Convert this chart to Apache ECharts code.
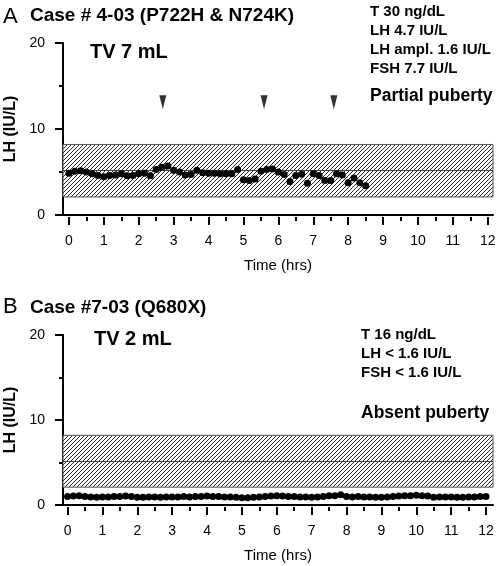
<!DOCTYPE html>
<html><head><meta charset="utf-8">
<script src="https://cdn.jsdelivr.net/npm/echarts@6/dist/echarts.min.js"></script>
<style>html,body{margin:0;padding:0;background:#fff}#c{width:498px;height:566px}</style>
</head><body><div id="c"></div>
<script>
// Panel A: sampling times (minutes) and LH values (IU/L)
const minutesA = [0,10,20,30,40,50,60,70,80,90,100,110,120,130,140,150,160,170,180,190,200,210,220,230,240,250,260,270,280,290,300,310,320,330,340,350,360,370,380,390,400,410,420,430,440,450,460,470,480,490,500,510];
const lhA = [4.85,5.1,5.15,5.0,4.8,4.6,4.45,4.6,4.65,4.8,4.55,4.6,4.8,4.85,4.55,5.3,5.55,5.7,5.2,5.0,4.65,4.7,5.2,4.9,4.85,4.85,4.8,4.8,4.8,5.3,4.1,4.0,4.2,5.1,5.3,5.35,5.0,4.7,3.9,4.6,4.75,3.7,4.8,4.6,4.0,4.0,4.8,4.65,3.75,4.3,3.75,3.4];
// Panel B
const minutesB = [0,10,20,30,40,50,60,70,80,90,100,110,120,130,140,150,160,170,180,190,200,210,220,230,240,250,260,270,280,290,300,310,320,330,340,350,360,370,380,390,400,410,420,430,440,450,460,470,480,490,500,510,520,530,540,550,560,570,580,590,600,610,620,630,640,650,660,670,680,690,700,710,720];
const lhB = [1.0,1.05,1.1,1.0,0.95,0.9,0.95,0.95,1.0,1.0,1.05,1.0,0.9,0.9,0.95,0.95,0.9,0.95,0.95,0.95,1.0,0.95,1.0,1.0,1.05,1.0,1.0,0.95,0.95,0.9,0.85,0.85,0.9,0.95,1.0,1.05,1.1,1.05,1.0,1.0,0.95,0.95,0.9,0.95,1.0,1.1,1.1,1.2,1.0,0.95,1.0,0.95,0.95,0.9,0.9,0.95,1.0,1.05,1.1,1.1,1.15,1.1,1.05,0.9,0.95,0.95,0.95,0.9,0.9,0.95,0.95,1.0,1.0];
// Pulse arrows (hours) and their plotted level
const arrowHoursA = [2.69, 5.59, 7.59];
const arrowLevelA = 13.1;
// Normal range band
const bandLow = 2.1, bandMid = 5.2, bandHigh = 8.2;
// Ticks
const xTickHours = [0,1,2,3,4,5,6,7,8,9,10,11,12];
const xMinorHours = [0.5,1.5,2.5,3.5,4.5,5.5,6.5,7.5,8.5,9.5,10.5,11.5];
const yMin = 0, yMax = 20, yInterval = 10;

const FONT = '"Liberation Sans", Arial, Helvetica, sans-serif';

// hatch pattern
const pc = document.createElement('canvas');
pc.width = 4; pc.height = 4;
const g = pc.getContext('2d');
g.fillStyle = '#fff'; g.fillRect(0,0,4,4);
g.strokeStyle = '#2a2a2a'; g.lineWidth = 1;
g.beginPath();
g.moveTo(0,4); g.lineTo(4,0);
g.moveTo(-1,1); g.lineTo(1,-1);
g.moveTo(3,5); g.lineTo(5,3);
g.stroke();
const hatch = {image: pc, repeat: 'repeat'};

const xRanges = [[-0.17, 12.15], [-0.13, 12.2]];

function xAxesFor(gi) {
  const [mn, mx] = xRanges[gi];
  return [
    {gridIndex: gi, type: 'value', min: mn, max: mx, position: 'bottom', offset: 0,
     axisLine: {show: true, onZero: false, lineStyle: {color: '#000', width: 2}},
     axisTick: {show: false}, axisLabel: {show: false}, splitLine: {show: false},
     name: 'Time (hrs)', nameLocation: 'middle', nameGap: 43,
     nameTextStyle: {fontFamily: FONT, fontSize: 15, color: '#000'}},
    {gridIndex: gi, type: 'value', min: mn, max: mx, position: 'bottom', offset: 2,
     axisLine: {show: false, onZero: false},
     axisTick: {show: true, length: 8, customValues: xTickHours, lineStyle: {color: '#000', width: 2}},
     axisLabel: {show: true, customValues: xTickHours, margin: 17, fontFamily: FONT, fontSize: 14, color: '#000'},
     splitLine: {show: false}},
    {gridIndex: gi, type: 'value', min: mn, max: mx, position: 'bottom', offset: 2,
     axisLine: {show: false, onZero: false},
     axisTick: {show: true, length: 4, customValues: xMinorHours, lineStyle: {color: '#000', width: 2}},
     axisLabel: {show: false}, splitLine: {show: false}}
  ];
}
function yAxisFor(gi) {
  return {gridIndex: gi, type: 'value', min: yMin, max: yMax, interval: yInterval, position: 'left',
    axisLine: {show: true, onZero: false, lineStyle: {color: '#000', width: 2}},
    axisTick: {show: true, length: 8, lineStyle: {color: '#000', width: 2}},
    minorTick: {show: true, splitNumber: 2, length: 4, lineStyle: {color: '#000', width: 2}},
    axisLabel: {margin: 18, fontFamily: FONT, fontSize: 14, color: '#000'},
    splitLine: {show: false}, minorSplitLine: {show: false},
    name: 'LH (IU/L)', nameLocation: 'middle', nameGap: 28,
    nameTextStyle: {fontFamily: FONT, fontSize: 16, fontWeight: 'bold', color: '#000'}};
}
function bandMarks(gi) {
  const [mn, mx] = xRanges[gi];
  return {
    markArea: {silent: true, itemStyle: {color: hatch, borderColor: '#555', borderWidth: 1},
      data: [[{xAxis: mn, yAxis: bandLow}, {xAxis: mx, yAxis: bandHigh}]]},
    markLine: {silent: true, symbol: 'none', label: {show: false},
      lineStyle: {color: '#444', width: 1, type: 'solid'},
      data: [{yAxis: bandMid}]}
  };
}

const dataA = minutesA.map((m, i) => [m / 60, lhA[i]]);
const dataB = minutesB.map((m, i) => [m / 60, lhB[i]]);
const arrows = arrowHoursA.map(h => [h, arrowLevelA]);

function txt(x, y, s, font) {
  return {type: 'text', x: x, y: y, silent: true,
    style: {text: s, font: font, fill: '#000', textVerticalAlign: 'middle', verticalAlign: 'middle'}};
}
const B = 'bold ';
const chart = echarts.init(document.getElementById('c'), null, {renderer: 'canvas'});
chart.setOption({
  animation: false,
  backgroundColor: '#fff',
  grid: [
    {left: 63, right: 5, top: 43, bottom: 351, containLabel: false, outerBoundsMode: 'none'},
    {left: 63, right: 5, top: 335, bottom: 61, containLabel: false, outerBoundsMode: 'none'}
  ],
  xAxis: xAxesFor(0).concat(xAxesFor(1)),
  yAxis: [yAxisFor(0), yAxisFor(1)],
  series: [
    Object.assign({type: 'scatter', xAxisIndex: 0, yAxisIndex: 0, data: dataA, symbolSize: 7,
      itemStyle: {color: '#000', opacity: 1}, z: 5}, bandMarks(0)),
    {type: 'scatter', xAxisIndex: 0, yAxisIndex: 0, data: arrows, symbol: 'triangle',
      symbolRotate: 180, symbolSize: [7, 14], itemStyle: {color: '#000'}},
    Object.assign({type: 'scatter', xAxisIndex: 3, yAxisIndex: 1, data: dataB, symbolSize: 7,
      itemStyle: {color: '#000', opacity: 1}, z: 5}, bandMarks(1))
  ],
  graphic: [
    txt(3, 17, 'A', '22px ' + FONT),
    txt(30, 16, 'Case # 4-03 (P722H & N724K)', B + '19px ' + FONT),
    txt(90, 52, 'TV 7 mL', B + '20px ' + FONT),
    txt(370, 12, 'T 30 ng/dL', B + '15px ' + FONT),
    txt(370, 31, 'LH 4.7 IU/L', B + '15px ' + FONT),
    txt(370, 50, 'LH ampl. 1.6 IU/L', B + '15px ' + FONT),
    txt(370, 68.5, 'FSH 7.7 IU/L', B + '15px ' + FONT),
    txt(370, 96, 'Partial puberty', B + '17.5px ' + FONT),
    txt(3, 307, 'B', '22px ' + FONT),
    txt(30, 308, 'Case #7-03 (Q680X)', B + '19px ' + FONT),
    txt(94, 339, 'TV 2 mL', B + '20px ' + FONT),
    txt(361, 335, 'T 16 ng/dL', B + '15px ' + FONT),
    txt(361, 354, 'LH < 1.6 IU/L', B + '15px ' + FONT),
    txt(361, 373, 'FSH < 1.6 IU/L', B + '15px ' + FONT),
    txt(361, 413, 'Absent puberty', B + '17.5px ' + FONT)
  ]
});
</script></body></html>
